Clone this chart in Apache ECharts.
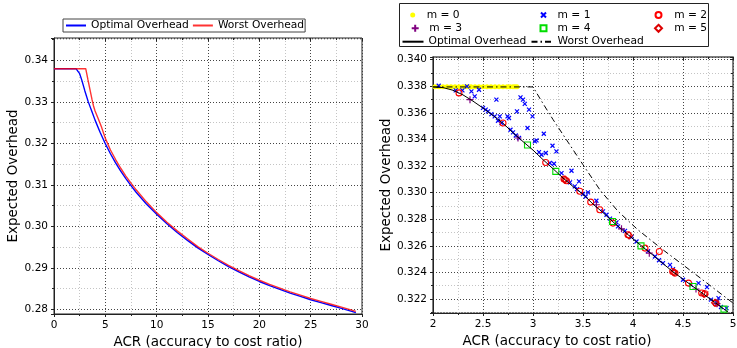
<!DOCTYPE html>
<html>
<head>
<meta charset="utf-8">
<script src="https://cdn.jsdelivr.net/npm/echarts@6/dist/echarts.min.js"></script>
<style>
  html, body { margin: 0; padding: 0; background: #fff; }
  #chart { width: 737px; height: 348px; }
</style>
</head>
<body>
<div id="chart"></div>
<script>
// left panel: ACR 0..30
const leftOptimal = [
  [0, 0.338], [2.14, 0.338], [2.3, 0.3377], [2.5, 0.3368], [2.7, 0.3353], [3.0, 0.3327],
  [3.34, 0.33], [3.7, 0.3276], [4.0, 0.3256], [4.5, 0.3226], [5.0, 0.3199], [5.5, 0.3175],
  [6.0, 0.3153], [6.5, 0.3133], [7.0, 0.3115], [7.5, 0.3098], [8.0, 0.3082], [9.0, 0.3054],
  [10, 0.3029], [11, 0.3006], [12, 0.2985], [13, 0.2966], [14, 0.2948], [15, 0.2932],
  [16, 0.2917], [17, 0.2903], [18, 0.289], [19, 0.2878], [20, 0.2867], [21, 0.2857],
  [22, 0.2848], [23, 0.2839], [24, 0.2831], [25, 0.2823], [26, 0.2816], [27, 0.2809],
  [28, 0.2802], [29, 0.2795], [29.4, 0.2792],
]
const leftWorst = [
  [0, 0.338], [3.09, 0.338], [3.3, 0.3354], [3.5, 0.333], [3.7, 0.3306], [3.85, 0.329],
  [4.0, 0.3278], [4.3, 0.326], [4.6, 0.3241], [5.0, 0.3212], [5.5, 0.3184], [6.0, 0.3161],
  [6.5, 0.314], [7.0, 0.3121], [7.5, 0.3104], [8.0, 0.3088], [9.0, 0.3059], [10, 0.3033],
  [11, 0.301], [12, 0.2989], [13, 0.297], [14, 0.2951], [15, 0.2935], [16, 0.292],
  [17, 0.2906], [18, 0.2893], [19, 0.2881], [20, 0.287], [21, 0.286], [22, 0.2851],
  [23, 0.2842], [24, 0.2834], [25, 0.2826], [26, 0.2819], [27, 0.2812], [28, 0.2805],
  [29, 0.2798], [29.4, 0.2795],
]

// right panel: ACR 2..5
const rightOptimal = [
  [2.0, 0.33795], [2.1, 0.3379], [2.2, 0.3377], [2.3, 0.33735], [2.4, 0.33688], [2.5, 0.33636],
  [2.6, 0.3358], [2.7, 0.33522], [2.8, 0.3345], [2.9, 0.33384], [3.0, 0.3332], [3.1, 0.33248],
  [3.2, 0.3318], [3.3, 0.3311], [3.4, 0.33046], [3.5, 0.32988], [3.6, 0.32914], [3.7, 0.3285],
  [3.8, 0.3278], [3.9, 0.32716], [4.0, 0.32652], [4.1, 0.3259], [4.2, 0.3253], [4.3, 0.32466],
  [4.4, 0.32405], [4.5, 0.3235], [4.6, 0.32294], [4.7, 0.3224], [4.8, 0.32185], [4.9, 0.3213],
  [4.95, 0.32102],
]
const rightWorst = [
  [2.0, 0.33795], [3.0, 0.33795], [3.1, 0.3367], [3.2, 0.3355], [3.35, 0.3338], [3.5, 0.3321],
  [3.67, 0.3302], [3.85, 0.3286], [4.05, 0.3272], [4.3, 0.3257], [4.6, 0.324], [5.0, 0.3217],
]
const m0 = [
  [2.02, 0.33797], [2.06, 0.33797], [2.1, 0.33797], [2.14, 0.33797], [2.18, 0.33797],
  [2.22, 0.33797], [2.26, 0.33797], [2.3, 0.33797], [2.34, 0.33797], [2.38, 0.33797],
  [2.42, 0.33797], [2.46, 0.33797], [2.5, 0.33797], [2.54, 0.33797], [2.58, 0.33797],
  [2.62, 0.33797], [2.66, 0.33797], [2.7, 0.33797], [2.74, 0.33797], [2.77, 0.33797],
  [2.8, 0.33797], [2.82, 0.33797], [2.84, 0.33797],
]
const m1 = [
  [2.057, 0.33804], [2.227, 0.33769], [2.294, 0.33769], [2.34, 0.33799], [2.384, 0.33761],
  [2.417, 0.33724], [2.46, 0.33774], [2.5, 0.33637], [2.527, 0.33624], [2.55, 0.33611],
  [2.584, 0.33591], [2.617, 0.33573], [2.634, 0.33699], [2.65, 0.33541], [2.668, 0.33573],
  [2.685, 0.33524], [2.745, 0.33573], [2.76, 0.33561], [2.775, 0.33473], [2.8, 0.33453],
  [2.828, 0.3343], [2.84, 0.33611], [2.86, 0.33411], [2.875, 0.33716], [2.9, 0.33699],
  [2.918, 0.33667], [2.945, 0.33486], [2.96, 0.33624], [2.995, 0.33573], [3.018, 0.33385],
  [3.035, 0.33393], [3.06, 0.33305], [3.085, 0.33285], [3.108, 0.33443], [3.128, 0.33298],
  [3.168, 0.33223], [3.195, 0.33353], [3.21, 0.33217], [3.234, 0.3331], [3.285, 0.33147],
  [3.37, 0.33077], [3.385, 0.33165], [3.418, 0.33047], [3.44, 0.33027], [3.46, 0.33085],
  [3.5, 0.3299], [3.527, 0.32971], [3.55, 0.33002], [3.634, 0.32939], [3.7, 0.32859],
  [3.735, 0.32834], [3.77, 0.32805], [3.835, 0.32776], [3.85, 0.32746], [3.92, 0.32712],
  [3.985, 0.32666], [4.035, 0.32633], [4.15, 0.3256], [4.22, 0.3252], [4.26, 0.32492],
  [4.3, 0.3247], [4.37, 0.32457], [4.4, 0.32425], [4.5, 0.32345], [4.58, 0.32306],
  [4.655, 0.3232], [4.74, 0.3229], [4.78, 0.32196], [4.84, 0.32174], [4.855, 0.32207],
  [4.88, 0.3214], [4.935, 0.32132],
]
const m2 = [
  [2.26, 0.3375], [2.7, 0.33524], [3.127, 0.33227], [3.31, 0.33102], [3.335, 0.3309],
  [3.468, 0.3301], [3.577, 0.32929], [3.668, 0.32871], [3.8, 0.32771], [3.95, 0.32683],
  [4.12, 0.32583], [4.263, 0.32558], [4.397, 0.32407], [4.42, 0.32395], [4.555, 0.3232],
  [4.687, 0.32245], [4.72, 0.3224], [4.83, 0.32169],
]
const m3 = [
  [2.37, 0.33699], [2.85, 0.33411], [3.634, 0.32909], [3.885, 0.32728], [4.163, 0.32545],
  [4.63, 0.32275], [4.84, 0.32165],
]
const m4 = [
  [2.945, 0.33358], [3.228, 0.3316], [3.795, 0.32783], [4.08, 0.326], [4.6, 0.32294],
  [4.91, 0.32124],
]
const m5 = [
  [3.32, 0.33097], [3.96, 0.32678], [4.41, 0.32401], [4.71, 0.32238], [4.82, 0.32172],
]

const legendNames = {
  leftOpt: "Optimal Overhead",
  leftWorst: "Worst Overhead",
  rightOpt: "Optimal Overhead",
  rightWorst: "Worst Overhead",
  m0: "m = 0", m1: "m = 1", m2: "m = 2", m3: "m = 3", m4: "m = 4", m5: "m = 5",
}

const FONT = "DejaVu Sans"
const majorLine = { type: [1, 2], color: "#444", width: 1 }
const minorLine = { type: [1, 2], color: "#c4c4c4", width: 1 }
const crossPath = "path://M0,0L10,10M10,0L0,10"
const plusPath = "path://M5,0L5,10M0,5L10,5"
const legendFont = { fontFamily: FONT, fontSize: 10.7, color: "#000", lineHeight: 13.3 }
const noSymbol = { color: "rgba(0,0,0,0)", borderWidth: 0, opacity: 0 }

// main axis with labels, grid lines and minor grid lines
function mainAxis(extra) {
  return Object.assign({
    type: "value",
    axisLine: { show: true, onZero: false, lineStyle: { color: "#222" } },
    axisTick: { show: true, length: 3, lineStyle: { color: "#222" } },
    minorTick: { show: true, splitNumber: 2, length: 2, lineStyle: { color: "#222" } },
    splitLine: { show: true, lineStyle: majorLine },
    minorSplitLine: { show: true, lineStyle: minorLine },
    nameLocation: "middle",
    nameTextStyle: { fontFamily: FONT, fontSize: 13.5, color: "#000" },
  }, extra)
}
// ticks only, on the opposite side of the frame
function tickAxis(extra) {
  return Object.assign({
    type: "value",
    axisLine: { show: false },
    axisTick: { show: true, inside: true, length: 3, lineStyle: { color: "#222" } },
    minorTick: { show: true, splitNumber: 2, length: 2, lineStyle: { color: "#222" } },
    axisLabel: { show: false },
    splitLine: { show: false },
  }, extra)
}
// one legend entry of the right panel, placed by row
function lineLegend(name, left, rowY) {
  return {
    left: left, top: rowY - 6.65, data: [{ name: name, itemStyle: noSymbol }], selectedMode: false,
    formatter: (n) => legendNames[n], itemWidth: 21, itemHeight: 6, padding: 0, textStyle: legendFont,
  }
}
function scatterLegend(name, cx, rowY, size, textStart) {
  return {
    left: cx - size / 2, top: rowY - 6.65, data: [name], selectedMode: false,
    formatter: (n) => legendNames[n], itemWidth: size, itemHeight: size, padding: 0,
    textStyle: Object.assign({ padding: [0, 0, 0, textStart - size / 2 - 5] }, legendFont),
  }
}

const chartDom = document.getElementById("chart")
const myChart = echarts.init(chartDom)

const option = {
  animation: false,
  textStyle: { fontFamily: FONT },
  grid: [
    { left: 54, top: 38, width: 308, height: 276, show: true, borderColor: "#222", borderWidth: 1, containLabel: false, outerBoundsMode: "none" },
    { left: 433, top: 57, width: 300, height: 256, show: true, borderColor: "#555", borderWidth: 1.5, containLabel: false, outerBoundsMode: "none" },
  ],
  xAxis: [
    mainAxis({
      gridIndex: 0, position: "bottom", min: 0, max: 30, interval: 5,
      name: "ACR (accuracy to cost ratio)", nameGap: 19,
      axisLabel: { fontFamily: FONT, fontSize: 10.5, color: "#000", margin: 6 },
    }),
    tickAxis({ gridIndex: 0, position: "top", min: 0, max: 30, interval: 5 }),
    mainAxis({
      gridIndex: 1, position: "bottom", min: 2, max: 5, interval: 0.5,
      name: "ACR (accuracy to cost ratio)", nameGap: 19,
      nameTextStyle: { fontFamily: FONT, fontSize: 13.5, color: "#000", padding: [0, 52, 0, 0] },
      axisLabel: { fontFamily: FONT, fontSize: 10.5, color: "#000", margin: 6 },
    }),
    tickAxis({ gridIndex: 1, position: "top", min: 2, max: 5, interval: 0.5 }),
  ],
  yAxis: [
    mainAxis({
      gridIndex: 0, position: "left", min: 0.27886, max: 0.3454, splitNumber: 7,
      name: "Expected Overhead", nameGap: 31,
      axisLabel: {
        fontFamily: FONT, fontSize: 10.5, color: "#000", margin: 6, showMinLabel: false, showMaxLabel: false,
        formatter: (v) => v.toFixed(2),
      },
    }),
    tickAxis({ gridIndex: 0, position: "right", min: 0.27886, max: 0.3454, splitNumber: 7 }),
    mainAxis({
      gridIndex: 1, position: "left", min: 0.32095, max: 0.3402, splitNumber: 10,
      name: "Expected Overhead", nameGap: 37,
      axisLabel: {
        fontFamily: FONT, fontSize: 10.5, color: "#000", margin: 6, showMinLabel: false, showMaxLabel: false,
        formatter: (v) => v.toFixed(3),
      },
    }),
    tickAxis({ gridIndex: 1, position: "right", min: 0.32095, max: 0.3402, splitNumber: 10 }),
  ],
  legend: [
    {
      left: 63, top: 19, selectedMode: false,
      data: [{ name: "leftOpt", itemStyle: noSymbol }, { name: "leftWorst", itemStyle: noSymbol }],
      formatter: (n) => legendNames[n],
      itemWidth: 20, itemHeight: 10, itemGap: 3, padding: [1, 1, 1, 2],
      backgroundColor: "#fff", borderColor: "#444", borderWidth: 1, borderRadius: 0,
      textStyle: { fontFamily: FONT, fontSize: 10.7, color: "#000" },
    },
    scatterLegend("m0", 412.7, 15, 5, 14),
    scatterLegend("m1", 541, 15, 5, 14),
    scatterLegend("m2", 656, 15, 6, 15.7),
    scatterLegend("m3", 412.7, 28.3, 7, 14),
    scatterLegend("m4", 541, 28.3, 6, 14),
    scatterLegend("m5", 656, 28.3, 7, 15.7),
    lineLegend("rightOpt", 401.5, 41.7),
    lineLegend("rightWorst", 530.5, 41.7),
  ],
  graphic: [
    {
      type: "rect", left: 399, top: 3, z: -1,
      shape: { width: 309, height: 43 },
      style: { fill: "#fff", stroke: "#222", lineWidth: 1 },
    },
  ],
  series: [
    {
      name: "leftOpt", type: "line", xAxisIndex: 0, yAxisIndex: 0, data: leftOptimal,
      symbol: "none", lineStyle: { color: "#0000ff", width: 1.4 }, itemStyle: { color: "#0000ff" },
    },
    {
      name: "leftWorst", type: "line", xAxisIndex: 0, yAxisIndex: 0, data: leftWorst,
      symbol: "none", lineStyle: { color: "#ff0000", width: 1.4, opacity: 0.8 }, itemStyle: { color: "#ff0000" },
    },
    {
      name: "rightOpt", type: "line", xAxisIndex: 2, yAxisIndex: 2, data: rightOptimal,
      symbol: "none", lineStyle: { color: "#000", width: 1 }, itemStyle: { color: "#000" },
    },
    {
      name: "rightWorst", type: "line", xAxisIndex: 2, yAxisIndex: 2, data: rightWorst,
      symbol: "none", lineStyle: { color: "#000", width: 1, type: [6, 3, 1.5, 3] }, itemStyle: { color: "#000" },
    },
    {
      name: "m0", type: "scatter", xAxisIndex: 2, yAxisIndex: 2, data: m0,
      symbol: "circle", symbolSize: 5, itemStyle: { color: "#ffff00", opacity: 1 },
    },
    {
      name: "m1", type: "scatter", xAxisIndex: 2, yAxisIndex: 2, data: m1,
      symbol: crossPath, symbolSize: 4, itemStyle: { color: "none", borderColor: "#0000ff", borderWidth: 1.2, opacity: 1 },
    },
    {
      name: "m2", type: "scatter", xAxisIndex: 2, yAxisIndex: 2, data: m2,
      symbol: "circle", symbolSize: 6, itemStyle: { color: "none", borderColor: "#ff0000", borderWidth: 1.1, opacity: 1 },
    },
    {
      name: "m3", type: "scatter", xAxisIndex: 2, yAxisIndex: 2, data: m3,
      symbol: plusPath, symbolSize: 7, itemStyle: { color: "none", borderColor: "#800080", borderWidth: 1.2, opacity: 1 },
    },
    {
      name: "m4", type: "scatter", xAxisIndex: 2, yAxisIndex: 2, data: m4,
      symbol: "rect", symbolSize: 6, itemStyle: { color: "none", borderColor: "#00dd00", borderWidth: 1.1, opacity: 1 },
    },
    {
      name: "m5", type: "scatter", xAxisIndex: 2, yAxisIndex: 2, data: m5,
      symbol: "diamond", symbolSize: 7, itemStyle: { color: "none", borderColor: "#dd0000", borderWidth: 1.1, opacity: 1 },
    },
  ],
}

option && myChart.setOption(option)
</script>
</body>
</html>
